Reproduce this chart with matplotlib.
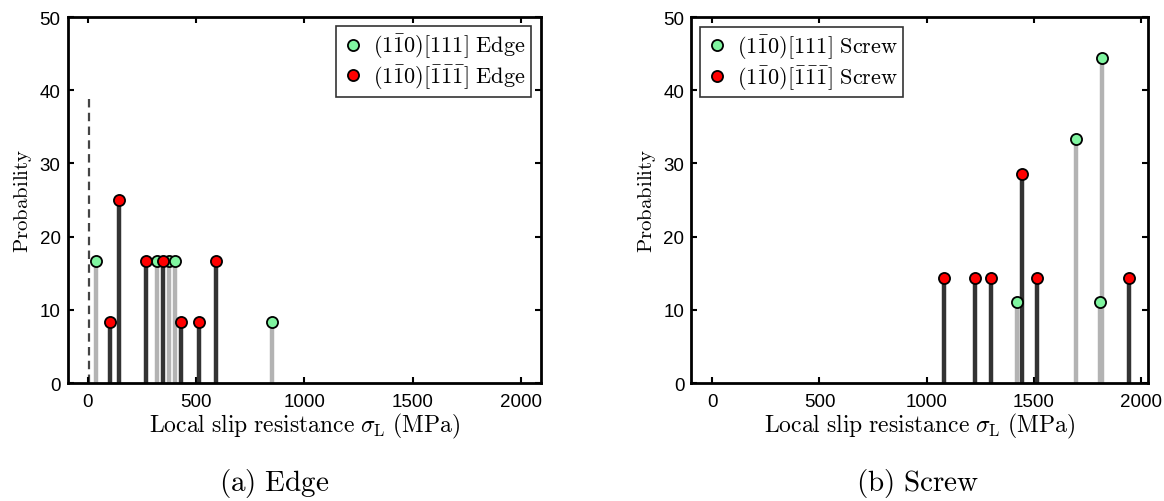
import matplotlib
matplotlib.use('Agg')
import matplotlib.pyplot as plt
from matplotlib.lines import Line2D

plt.rcParams['mathtext.fontset'] = 'cm'
plt.rcParams['font.family'] = ['Liberation Sans', 'DejaVu Sans']

# (a) Edge: local slip resistance (MPa) and probability (%)
edge_g_x = [38, 320, 375, 404, 849]
edge_g_p = [16.67, 16.67, 16.67, 16.67, 8.33]
edge_r_x = [103, 146, 269, 349, 429, 514, 592]
edge_r_p = [8.33, 25.0, 16.67, 16.67, 8.33, 8.33, 16.67]
edge_ref_x = 7
edge_ref_top = 39.5

# (b) Screw
screw_g_x = [1421, 1697, 1806, 1819]
screw_g_p = [11.11, 33.33, 11.11, 44.44]
screw_r_x = [1081, 1225, 1298, 1443, 1513, 1945]
screw_r_p = [14.29, 14.29, 14.29, 28.57, 14.29, 14.29]

xticks = [0, 500, 1000, 1500, 2000]
yticks = [0, 10, 20, 30, 40, 50]

GREEN = '#80f5a0'
RED = '#ff0000'
DARK = '#333333'
LIGHT = '#b3b3b3'


def draw_panel(ax, gx, gp, rx, rp, kind, xlim, legend_loc, legend_anchor):
    ax.vlines(gx, 0, gp, colors=LIGHT, lw=3.2, zorder=2)
    ax.vlines(rx, 0, rp, colors=DARK, lw=3.2, zorder=2.5)
    ax.plot(gx, gp, 'o', ms=8, mfc=GREEN, mec='black', mew=1.3, zorder=3, clip_on=False)
    ax.plot(rx, rp, 'o', ms=8, mfc=RED, mec='black', mew=1.3, zorder=3, clip_on=False)

    ax.set_xlim(*xlim)
    ax.set_ylim(0, 50)
    ax.set_xticks(xticks)
    ax.set_yticks(yticks)
    ax.tick_params(direction='in', top=True, right=True, length=4, width=1.5,
                   labelsize=13.5)
    ax.tick_params(axis='x', pad=7)
    ax.tick_params(axis='y', pad=5)
    for s in ax.spines.values():
        s.set_linewidth(2.0)

    ax.set_xlabel(r'$\mathrm{Local\ slip\ resistance}\ \sigma_{\mathrm{L}}\ \mathrm{(MPa)}$',
                  fontsize=17, labelpad=1)
    ax.set_ylabel(r'$\mathrm{Probability}$', fontsize=15, labelpad=4)

    handles = [
        Line2D([], [], ls='none', marker='o', ms=8, mfc=GREEN, mec='black', mew=1.3,
               label=r'$(1\bar{1}0)[111]\ \mathrm{%s}$' % kind),
        Line2D([], [], ls='none', marker='o', ms=8, mfc=RED, mec='black', mew=1.3,
               label=r'$(1\bar{1}0)[\bar{1}\bar{1}\bar{1}]\ \mathrm{%s}$' % kind),
    ]
    leg = ax.legend(handles=handles, loc=legend_loc, bbox_to_anchor=legend_anchor,
                    fontsize=16, frameon=True, fancybox=False, edgecolor='#333333',
                    framealpha=1, handletextpad=0.4, borderpad=0.25, labelspacing=0.1,
                    handlelength=1.0, borderaxespad=0)
    leg.get_frame().set_linewidth(1.2)


fig = plt.figure(figsize=(11.64, 5.02), dpi=100)
ax1 = fig.add_axes([0.058, 0.235, 0.407, 0.729])
ax2 = fig.add_axes([0.594, 0.235, 0.392, 0.729])

draw_panel(ax1, edge_g_x, edge_g_p, edge_r_x, edge_r_p, 'Edge', (-93, 2094),
           'upper right', (0.978, 0.975))
ax1.plot([edge_ref_x, edge_ref_x], [0, edge_ref_top], ls=(0, (3.8, 2.4)), color='#444444',
         lw=1.6, zorder=1.5)
draw_panel(ax2, screw_g_x, screw_g_p, screw_r_x, screw_r_p, 'Screw', (-97, 2030),
           'upper left', (0.0186, 0.973))

fig.text(274 / 1164, 1 - 484 / 502, r'$\mathrm{(a)\ Edge}$', fontsize=21, ha='center', va='center')
fig.text(918 / 1164, 1 - 484 / 502, r'$\mathrm{(b)\ Screw}$', fontsize=21, ha='center', va='center')

fig.savefig('out.png', dpi=100)
